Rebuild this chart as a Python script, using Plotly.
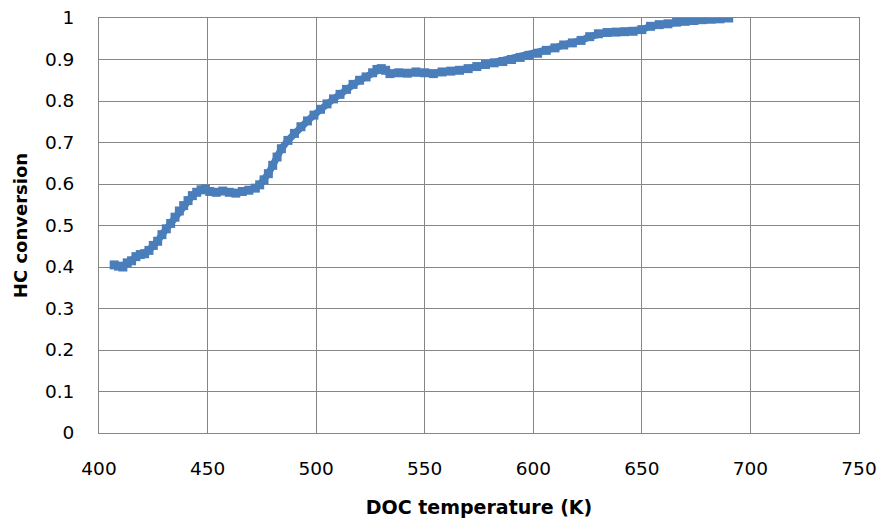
import plotly.graph_objects as go

# DOC temperature (K) and measured HC conversion
temperature_k = [
    407, 409, 411, 413, 415, 417, 419, 421, 423, 425, 427, 429, 431, 433,
    435, 437, 439, 441, 443, 445, 447, 449, 451, 454, 457, 460, 463, 466,
    469, 472, 474, 476, 478, 480, 482, 484, 487, 490, 493, 496, 499, 502,
    505, 508, 511, 514, 517, 520, 523, 526, 528, 530, 532, 534, 538, 542,
    546, 550, 554, 558, 562, 566, 570, 574, 578, 582, 586, 590, 594, 598,
    602, 606, 610, 614, 618, 622, 626, 630, 634, 638, 642, 646, 650, 654,
    658, 662, 666, 670, 674, 678, 682, 686, 690,
]
hc_conversion = [
    0.405, 0.402, 0.400, 0.410, 0.415, 0.425, 0.430, 0.432, 0.440, 0.452,
    0.462, 0.478, 0.492, 0.505, 0.520, 0.535, 0.548, 0.560, 0.572, 0.580,
    0.586, 0.588, 0.582, 0.580, 0.583, 0.580, 0.578, 0.582, 0.585, 0.590,
    0.598, 0.610, 0.625, 0.645, 0.665, 0.685, 0.705, 0.722, 0.738, 0.752,
    0.766, 0.780, 0.793, 0.805, 0.816, 0.828, 0.840, 0.850, 0.858, 0.868,
    0.876, 0.878, 0.874, 0.866, 0.868, 0.867, 0.870, 0.868, 0.866, 0.870,
    0.872, 0.874, 0.878, 0.883, 0.888, 0.892, 0.895, 0.900, 0.905, 0.910,
    0.915, 0.922, 0.928, 0.935, 0.940, 0.946, 0.955, 0.962, 0.965, 0.966,
    0.967, 0.968, 0.972, 0.980, 0.984, 0.986, 0.990, 0.992, 0.994, 0.996,
    0.997, 0.998, 1.000,
]

x_ticks = [400, 450, 500, 550, 600, 650, 700, 750]
y_ticks = [0, 0.1, 0.2, 0.3, 0.4, 0.5, 0.6, 0.7, 0.8, 0.9, 1]
y_tick_text = ["0", "0.1", "0.2", "0.3", "0.4", "0.5", "0.6", "0.7", "0.8", "0.9", "1"]

BLUE = "#4A7EBB"
GRID = "#868686"
TEXT = "#000000"
FONT = "DejaVu Sans"

fig = go.Figure(
    go.Scatter(
        x=temperature_k,
        y=hc_conversion,
        mode="lines+markers",
        line=dict(color=BLUE, width=7),
        marker=dict(color=BLUE, symbol="square", size=9),
        cliponaxis=True,
        showlegend=False,
    )
)

axis_common = dict(
    showgrid=True,
    gridcolor=GRID,
    gridwidth=1,
    showline=True,
    linecolor=GRID,
    linewidth=1,
    mirror=True,
    zeroline=False,
    ticks="outside",
    ticklen=0,
    automargin=False,
    tickfont=dict(family=FONT, size=18.5, color=TEXT),
)

fig.update_xaxes(
    range=[400, 750],
    tickvals=x_ticks,
    ticktext=[str(v) for v in x_ticks],
    ticklabelstandoff=19,
    title=dict(
        text="<b>DOC temperature (K)</b>",
        font=dict(family=FONT, size=19, color=TEXT),
        standoff=22,
    ),
    **axis_common,
)
fig.update_yaxes(
    range=[0, 1],
    tickvals=y_ticks,
    ticktext=y_tick_text,
    ticklabelstandoff=20,
    title=dict(
        text="<b>HC conversion</b>",
        font=dict(family=FONT, size=18, color=TEXT),
        standoff=12,
    ),
    **axis_common,
)

fig.update_layout(
    width=882,
    height=518,
    margin=dict(l=99, r=23, t=18, b=85),
    paper_bgcolor="white",
    plot_bgcolor="white",
)

fig.write_html("out.html")
